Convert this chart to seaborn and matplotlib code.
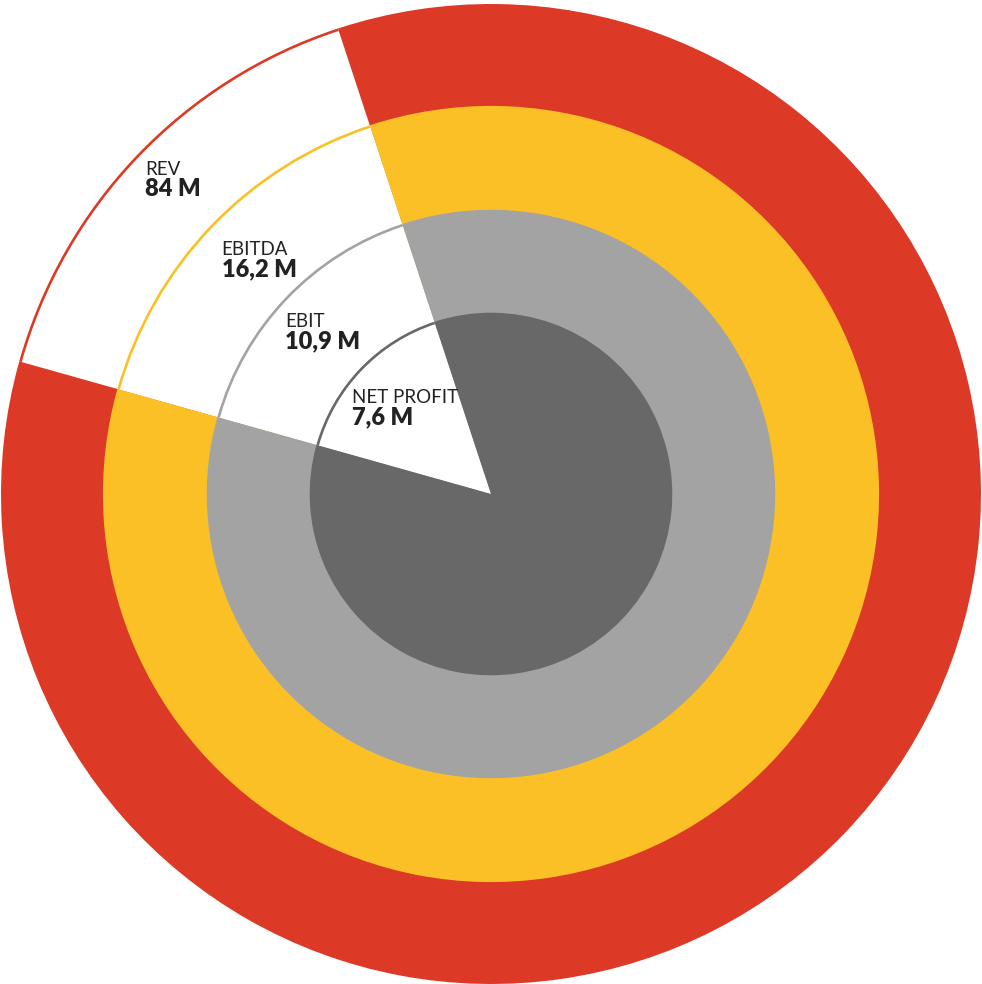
"""Concentric ring chart: revenue down to net profit, with an open wedge for labels."""

import matplotlib
matplotlib.use("Agg")
import matplotlib.pyplot as plt
from matplotlib.patches import Arc
import seaborn as sns

# data
metrics = ["REV", "EBITDA", "EBIT", "NET PROFIT"]
values_m = [84, 16.2, 10.9, 7.6]
value_labels = ["84 M", "16,2 M", "10,9 M", "7,6 M"]

# style
ring_colors = ["#DC3A26", "#FBC026", "#A3A3A3", "#686868"]
ring_radii = [1.0, 0.792, 0.580, 0.370]
wedge_start = 108.2
wedge_span = 56.1
label_xy = [(-0.706, 0.651), (-0.550, 0.488), (-0.420, 0.341), (-0.284, 0.186)]
value_dy = 0.043
text_color = "#222222"

sns.set_theme(style="white")
plt.rcParams["font.family"] = ["Lato", "DejaVu Sans"]

fig = plt.figure(figsize=(9.82, 9.84), dpi=100)
ax = fig.add_axes([0, 0, 1, 1])

gap = wedge_span / 360
for radius, color in zip(ring_radii, ring_colors):
    ax.pie(
        [gap, 1 - gap],
        colors=["white", color],
        radius=radius,
        startangle=wedge_start,
        counterclock=True,
        wedgeprops={"linewidth": 0},
        frame=True,
    )
    ax.add_patch(
        Arc((0, 0), 2 * radius - 0.005, 2 * radius - 0.005,
            theta1=wedge_start, theta2=wedge_start + wedge_span,
            color=color, lw=1.9)
    )

ax.set_xlim(-491 / 490, 491 / 490)
ax.set_ylim(-490 / 490, 494 / 490)
ax.set_aspect("auto")
ax.axis("off")

for name, label, (x, y) in zip(metrics, value_labels, label_xy):
    ax.text(x, y, name, fontsize=13.5, color=text_color, ha="left", va="baseline")
    ax.text(x, y - value_dy, label, fontsize=17, fontweight="heavy",
            color=text_color, ha="left", va="baseline")

fig.savefig("out.png", dpi=100, facecolor="white")
